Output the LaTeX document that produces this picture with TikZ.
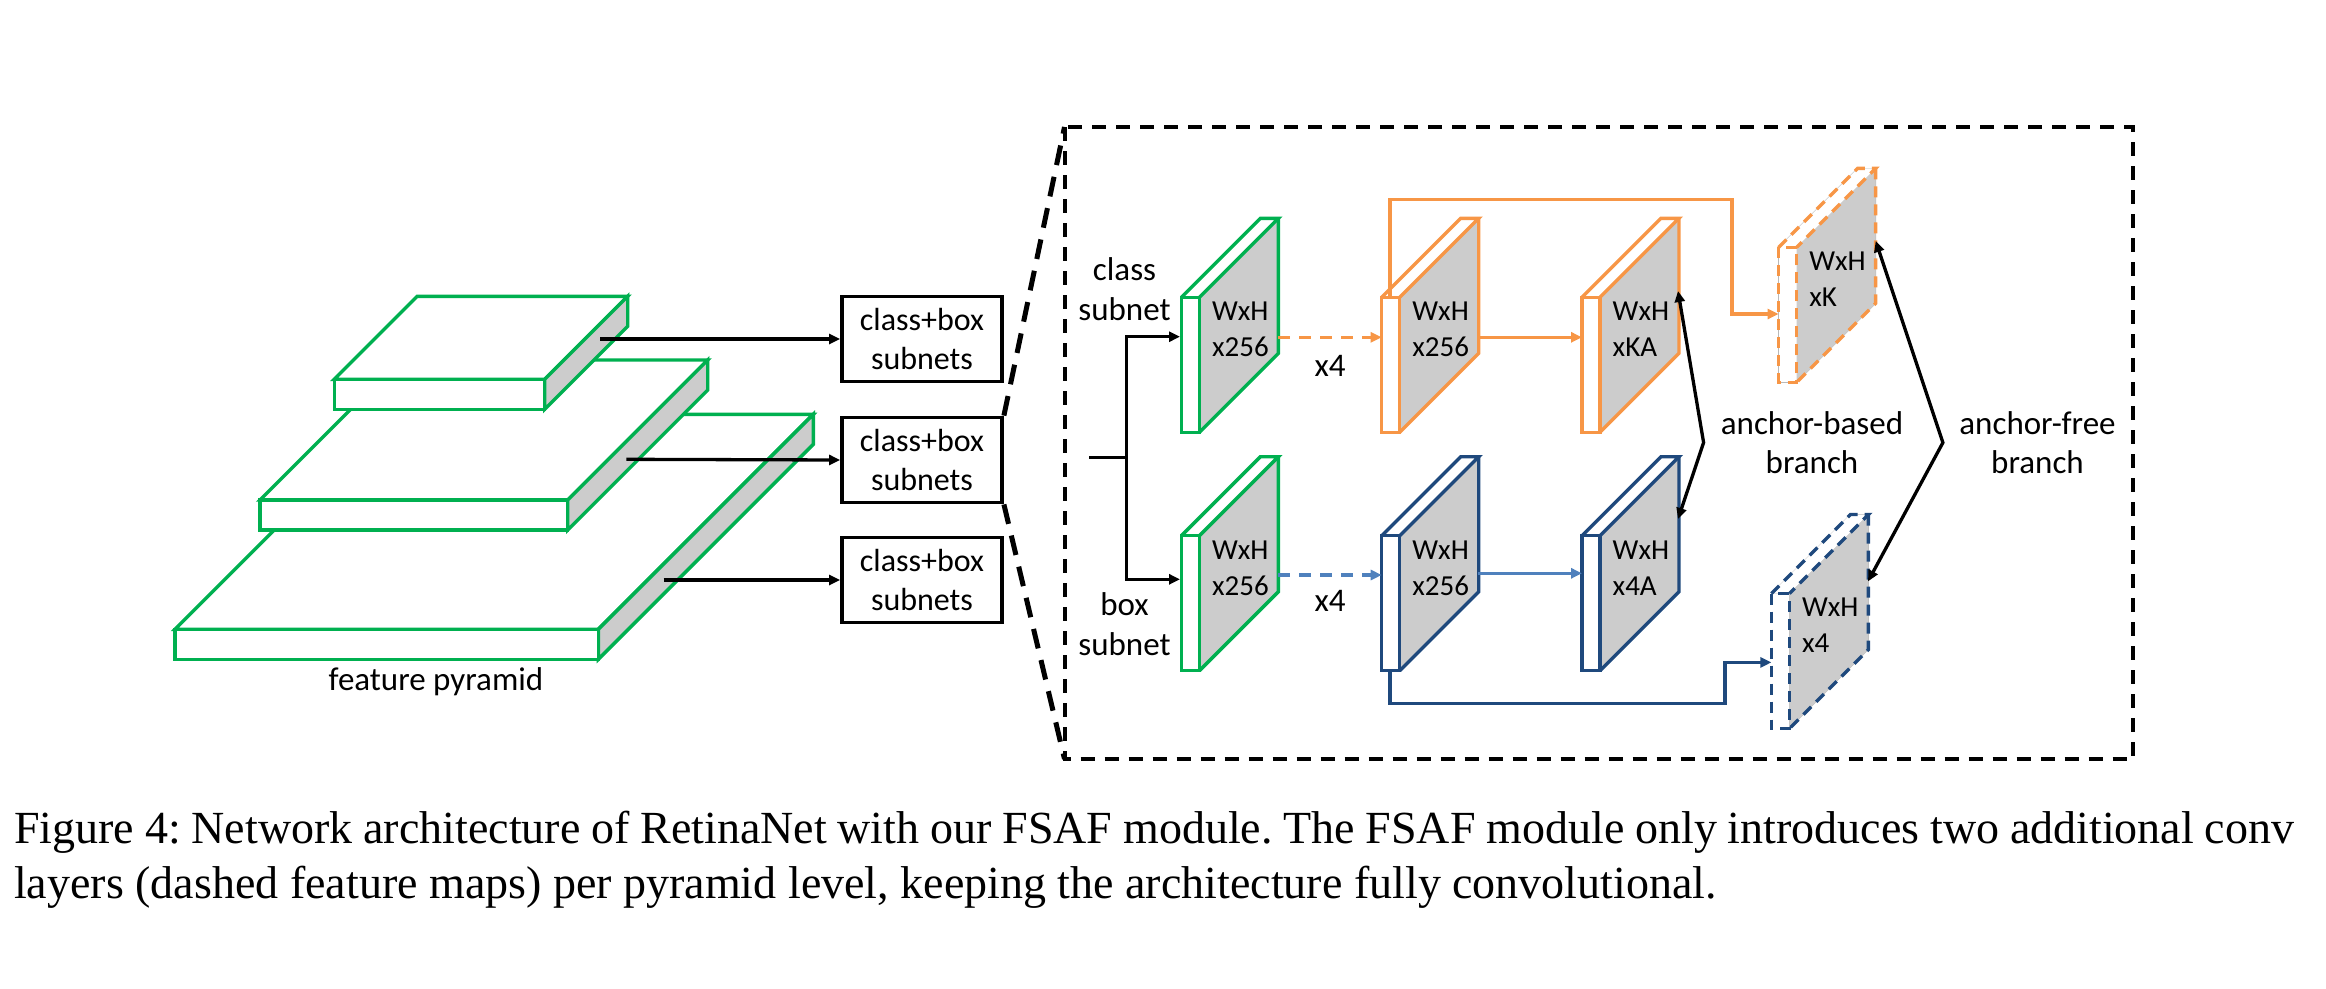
\documentclass[tikz,border=0pt]{standalone}
\usepackage{fontspec}
\setmainfont{Carlito}
\newfontfamily\capfont{Liberation Serif}
\usetikzlibrary{arrows.meta}
\definecolor{fgreen}{HTML}{00B050}
\definecolor{forange}{HTML}{F79646}
\definecolor{fblue}{HTML}{1F497D}
\definecolor{lblue}{HTML}{4F81BD}
\definecolor{fgray}{HTML}{CCCCCC}
\tikzset{
  arr/.style={line width=3.3pt, -{Triangle[length=11pt,width=10pt]}},
  dblarr/.style={line width=3.3pt, {Triangle[length=11pt,width=10pt]}-{Triangle[length=11pt,width=10pt]}},
  lbl/.style={font=\fontsize{33}{40}\selectfont, anchor=base, inner sep=0pt},
  mtext/.style={font=\fontsize{29}{36}\selectfont, anchor=base west, inner sep=0pt},
  subbox/.style={draw, line width=3.8pt, minimum width=160pt, minimum height=85pt, inner sep=0pt, align=center, font=\fontsize{32}{39}\selectfont},
  mapline/.style={line width=3.4pt, line join=miter},
  dmap/.style={dash pattern=on 11pt off 7pt},
  slabline/.style={fgreen, line width=3.4pt, line join=miter},
  frame/.style={line width=4pt, dash pattern=on 14pt off 10pt},
  zoomline/.style={line width=5pt, dash pattern=on 20pt off 12pt},
  capt/.style={font=\capfont\fontsize{46}{55}\selectfont, anchor=base west, inner sep=0pt},
}
% feature map block: #1 x, #2 y (front top-left), #3 colour, #4 extra style, #5 first line, #6 second line, #7 name
\newcommand\fmapblock[7]{%
  \begin{scope}[shift={(#1,#2)}]
    \fill[white] (0,0) rectangle (18,135);
    \fill[white] (0,0) -- (18,0) -- (97,-79) -- (79,-79) -- cycle;
    \fill[fgray] (18,0) -- (97,-79) -- (97,56) -- (18,135) -- cycle;
    \draw[mapline, #3, #4] (0,0) rectangle (18,135);
    \draw[mapline, #3, #4] (0,0) -- (79,-79) -- (97,-79) -- (18,0);
    \draw[mapline, #3, #4] (97,-79) -- (97,56) -- (18,135);
    \node[mtext] (#7a) at (30.5,23.4) {#5};
    \node[mtext] (#7b) at (30.5,59.4) {#6};
  \end{scope}}
% pyramid slab: #1 x, #2 y (front top-left), #3 width, #4 depth
\newcommand\pslab[4]{%
  \begin{scope}[shift={(#1,#2)}]
    \filldraw[slabline, fill=white] (0,0) -- (#4,-#4) -- (#3+#4,-#4) -- (#3,0) -- cycle;
    \filldraw[slabline, fill=fgray] (#3,0) -- (#3+#4,-#4) -- (#3+#4,30-#4) -- (#3,30) -- cycle;
    \filldraw[slabline, fill=white] (0,0) rectangle (#3,30);
  \end{scope}}
\begin{document}
\begin{tikzpicture}[x=1pt,y=-1pt]
\useasboundingbox (0,0) rectangle (2326,988);
% ---------- feature pyramid ----------
\pslab{175}{629.3}{423.3}{215}
\pslab{260}{500}{307.7}{140}
\pslab{334.2}{379.3}{210.5}{83}
\node[lbl] (fp) at (436,690) {feature pyramid};
% ---------- subnet boxes ----------
\node[subbox] (b1) at (922,339) {class+box\\subnets};
\node[subbox] (b2) at (922,460) {class+box\\subnets};
\node[subbox] (b3) at (922,580) {class+box\\subnets};
\coordinate (s1) at (600,339);
\coordinate (s2) at (626.3,459.3);
\coordinate (s3) at (663.5,580);
\draw[arr] (s1) -- (b1.west);
\draw[arr] (s2) -- (b2.west);
\draw[arr] (s3) -- (b3.west);
% ---------- frame and zoom lines ----------
\coordinate (fnw) at (1064.5,127);
\coordinate (fse) at (2133,759);
\coordinate (fsw) at (1064.5,759);
\draw[frame] (fnw) rectangle (fse);
\draw[zoomline] (b2.north east) -- (fnw);
\draw[zoomline] (b2.south east) -- (fsw);
% ---------- head blocks ----------
\fmapblock{1181.4}{297.3}{fgreen}{}{WxH}{x256}{gc}
\fmapblock{1381.7}{297.3}{forange}{}{WxH}{x256}{oa}
\fmapblock{1582}{297.3}{forange}{}{WxH}{xKA}{ob}
\fmapblock{1181.4}{535.7}{fgreen}{}{WxH}{x256}{gb}
\fmapblock{1381.7}{535.7}{fblue}{}{WxH}{x256}{ba}
\fmapblock{1582}{535.7}{fblue}{}{WxH}{x4A}{bb}
% dashed (anchor-free) blocks: thin grey under-outline then dashed
\begin{scope}[shift={(1778.6,247.4)}]
  \draw[gray!55, line width=0.8pt] (0,0) rectangle (18,135) (0,0) -- (79,-79) -- (97,-79) -- (18,0) (97,-79) -- (97,56) -- (18,135);
\end{scope}
\fmapblock{1778.6}{247.4}{forange}{dmap}{WxH}{xK}{oc}
\begin{scope}[shift={(1771.4,593.5)}]
  \draw[gray!55, line width=0.8pt] (0,0) rectangle (18,135) (0,0) -- (79,-79) -- (97,-79) -- (18,0) (97,-79) -- (97,56) -- (18,135);
\end{scope}
\fmapblock{1771.4}{593.5}{fblue}{dmap}{WxH}{x4}{bc}
% ---------- labels ----------
\node[lbl] (cl1) at (1124.5,280) {class};
\node[lbl] (cl2) at (1124.5,320) {subnet};
\node[lbl] (bx1) at (1124.5,615) {box};
\node[lbl] (bx2) at (1124.5,655) {subnet};
\node[lbl] (x4a) at (1330,376.7) {x4};
\node[lbl] (x4b) at (1330,611.7) {x4};
\node[lbl] (ab1) at (1812,434) {anchor-based};
\node[lbl] (ab2) at (1812,473) {branch};
\node[lbl] (af1) at (2037.5,434) {anchor-free};
\node[lbl] (af2) at (2037.5,473) {branch};
% ---------- input split ----------
\coordinate (inp) at (1089.4,457.7);
\coordinate (spl) at (1126.7,457.7);
\coordinate (gcin) at (1180,336.7);
\coordinate (gbin) at (1180,579.3);
\draw[line width=3.3pt] (inp) -- (spl);
\draw[arr] (spl) |- (gcin);
\draw[arr] (spl) |- (gbin);
% ---------- class row arrows ----------
\coordinate (gco) at (1278,337.3);
\coordinate (oai) at (1381.7,337.3);
\coordinate (oao) at (1478.3,337.3);
\coordinate (obi) at (1582,337.3);
\draw[arr, forange, dash pattern=on 12pt off 9pt] (gco) -- (oai);
\draw[arr, forange] (oao) -- (obi);
\coordinate (oatop) at (1390,297.3);
\coordinate (otr) at (1732,199.5);
\coordinate (oci) at (1778.6,314);
\draw[arr, forange, line join=miter] (oatop) |- (otr) |- (oci);
% ---------- box row arrows ----------
\coordinate (gbo) at (1278,575);
\coordinate (bai) at (1381.7,575);
\coordinate (bao) at (1478.3,573.3);
\coordinate (bbi) at (1582,573.3);
\draw[arr, lblue, dash pattern=on 12pt off 9pt] (gbo) -- (bai);
\draw[arr, lblue] (bao) -- (bbi);
\coordinate (babot) at (1390,670);
\coordinate (bbr) at (1725,703.5);
\coordinate (bci) at (1771.4,662.4);
\draw[arr, fblue, line join=miter] (babot) |- (bbr) |- (bci);
% ---------- branch double arrows ----------
\coordinate (abt) at (1678,291);
\coordinate (abv) at (1703.6,442.6);
\coordinate (abb) at (1678,519);
\draw[dblarr] (abt) -- (abv) -- (abb);
\coordinate (aft) at (1875.7,241);
\coordinate (afv) at (1942.9,442.6);
\coordinate (afb) at (1868,581.4);
\draw[dblarr] (aft) -- (afv) -- (afb);
% ---------- caption ----------
\node[capt] (cap1) at (14,843) {\frenchspacing\makebox[2280pt][s]{Figure 4: Network architecture of RetinaNet with our FSAF module. The FSAF module only introduces two additional conv}};
\node[capt] (cap2) at (14,898) {\frenchspacing layers (dashed feature maps) per pyramid level, keeping the architecture fully convolutional.};
\end{tikzpicture}
\end{document}
